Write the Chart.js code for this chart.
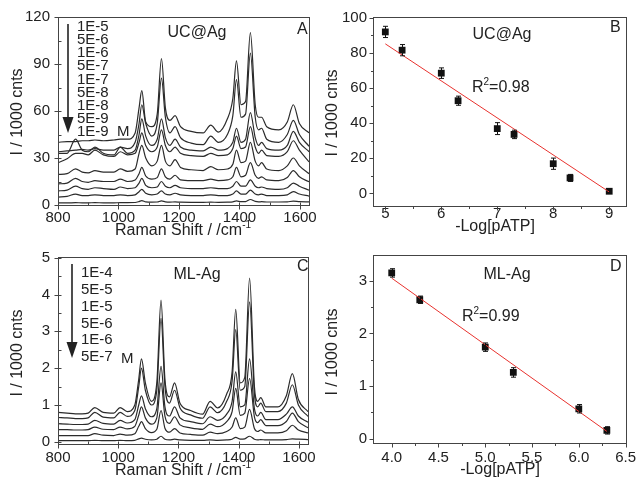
<!DOCTYPE html>
<html>
<head>
<meta charset="utf-8">
<script src="https://cdn.jsdelivr.net/npm/chart.js@4.4.0/dist/chart.umd.min.js"></script>
<style>
body { margin: 0; background: #fff; }
#wrap { position: relative; width: 642px; height: 486px; }
canvas { position: absolute; }
</style>
</head>
<body>
<div id="wrap">
<canvas id="cA" width="321" height="240" style="left:0;top:0"></canvas>
<canvas id="cB" width="321" height="240" style="left:321px;top:0"></canvas>
<canvas id="cC" width="321" height="246" style="left:0;top:240px"></canvas>
<canvas id="cD" width="321" height="246" style="left:321px;top:240px"></canvas>
</div>
<script>
// raman shift positions (cm-1) shared by both spectra panels
const ramanX = [800, 830, 858, 880, 900, 922, 950, 985, 1006, 1030, 1055, 1068, 1077, 1090, 1110, 1128, 1142, 1155, 1170, 1187, 1205, 1240, 1280, 1305, 1330, 1360, 1378, 1390, 1405, 1420, 1436, 1452, 1463, 1473, 1490, 1530, 1558, 1578, 1598, 1630];

// panel A : UC@Ag spectra, I / 1000 cnts
const ucLabels = ['1E-5', '5E-6', '1E-6', '5E-7', '1E-7', '5E-8', '1E-8', '5E-9', '1E-9'];
const uc_1e5 = [40,40.5,40.5,41,41,41.5,41,41.5,42,42, 46,62,73,53,50,58,93.5,62,54,57, 50,47,46,51,46.5,55,68,92,64,66, 110,64,56,56,50,48,53,64,52,46];
const uc_5e6 = [34,34.5,35,35.5,35,36,35,35,37,36, 40,52,64,52,44,52,81,56,46,50, 43,39.5,38.5,44,40,45,57,80,56,58, 97,56,48,49,42,40,45,54,45,37.5];
const uc_1e6 = [33,33,42,35,34,37,33,32,37,33, 35,45,55,44,38,42,55,43,38,42, 37,35,34.5,37,35,36,40,49,40,42, 59,43,38,40,36,35,38,47,40,34];
const uc_5e7 = [27,29.5,33,33,32,35,32,31,34,32, 33,40,46,38,34,37,48,38,34,37, 33,31.5,31,33,31.5,32,36,44,36,37, 50,37,33,35,31.5,31,34,41,35,27.5];
const uc_1e7 = [19.5,20,23,21,20.5,22,21,21,23,21.5, 23,33,38,30,25,28,38,28,25,29, 24,22.5,22,24.5,22.5,23,26,35,27,28, 40,28,25,27,23,22,25,30,25,20];
const uc_5e8 = [13.5,14,17,15,14.5,15.5,15,15,16.5,15, 16,20,24,18.5,16.5,17.5,23,18,16.5,19, 16,15.5,15.5,16.5,15.5,16,18,24,18,19, 27,19,17,18,16,15.5,17.5,22,18,14.8];
const uc_1e8 = [9,9.5,12,10.5,10,11,10.5,10,11.5,10.5, 11,14,17,12.5,11,11.5,15,12,11,12.5, 11,10.5,10.5,11,10.5,10.5,12,15,12,12, 16,12,11,11.5,10.5,10,11,14,12,9.5];
const uc_5e9 = [5,5.5,7,6,6,6.5,6,6,6.5,6, 6.5,8.5,10,7.5,6.5,7,9,7,6.5,7.5, 6.5,6,6,6.5,6,6,7,9,7,7, 9.5,7,6.5,7,6,6,6.5,8.5,7,5.7];
const uc_1e9 = [1.3,1.3,1.5,1.4,1.4,1.5,1.4,1.4,1.5,1.5, 1.6,2.2,2.8,2,1.8,1.9,2.6,2,1.8,2, 1.8,1.7,1.7,1.8,1.7,1.8,2,2.6,2.1,2.2, 3.5,2.3,2,2.1,1.9,1.9,2,2.5,2.2,2];

// panel C : ML-Ag spectra
const mlLabels = ['1E-4', '5E-5', '1E-5', '5E-6', '1E-6', '5E-7'];
const ml_1e4 = [0.8,0.78,0.76,0.76,0.78,0.93,0.8,0.78,0.93,0.82, 1.0,1.7,2.25,1.6,1.1,1.6,3.85,1.7,1.22,1.6, 1.05,0.85,0.75,1.1,0.92,1.3,1.9,3.6,1.6,1.75, 4.45,1.5,1.1,1.2,0.95,0.95,1.25,1.85,1.15,0.82];
const ml_5e5 = [0.66,0.65,0.63,0.63,0.65,0.8,0.67,0.65,0.8,0.69, 0.85,1.5,2.0,1.4,1.0,1.4,3.35,1.5,1.05,1.4, 0.92,0.73,0.64,0.95,0.79,1.1,1.65,3.05,1.4,1.5, 3.8,1.3,0.95,1.05,0.82,0.82,1.05,1.55,1.0,0.69];
const ml_1e5 = [0.49,0.48,0.47,0.47,0.48,0.58,0.5,0.48,0.58,0.51, 0.6,1.0,1.25,0.9,0.68,0.9,2.05,0.95,0.7,0.95, 0.65,0.55,0.49,0.68,0.58,0.75,1.1,1.9,0.95,1.0, 2.25,0.9,0.7,0.8,0.6,0.6,0.75,0.95,0.7,0.53];
const ml_5e6 = [0.33,0.33,0.32,0.32,0.33,0.4,0.34,0.33,0.4,0.35, 0.42,0.72,0.95,0.65,0.48,0.65,1.6,0.7,0.5,0.68, 0.46,0.38,0.34,0.48,0.41,0.55,0.82,1.45,0.72,0.78, 1.72,0.68,0.52,0.6,0.44,0.44,0.55,0.78,0.55,0.38];
const ml_1e6 = [0.17,0.17,0.17,0.17,0.17,0.22,0.18,0.17,0.21,0.18, 0.22,0.42,0.55,0.36,0.25,0.34,0.85,0.37,0.26,0.36, 0.24,0.2,0.18,0.26,0.22,0.28,0.4,0.65,0.36,0.4, 0.88,0.36,0.28,0.32,0.24,0.24,0.3,0.45,0.32,0.24];
const ml_5e7 = [0.03,0.03,0.03,0.03,0.03,0.04,0.03,0.03,0.04,0.03, 0.04,0.08,0.1,0.07,0.05,0.07,0.15,0.07,0.05,0.07, 0.05,0.04,0.04,0.05,0.04,0.05,0.07,0.12,0.07,0.08, 0.15,0.07,0.05,0.06,0.05,0.05,0.06,0.08,0.07,0.06];

// panel B : UC@Ag calibration
const bLogC = [5, 5.3, 6, 6.3, 7, 7.3, 8, 8.3, 9];
const bInt = [92, 81.6, 68.5, 52.8, 36.9, 33.6, 16.9, 8.8, 1.2];
const bErr = [3.2, 3.2, 3, 2.6, 3.4, 2.4, 3.2, 2, 0.8];
const bFitX = [5, 9];
const bFitY = [85.2, 0.8];

// panel D : ML-Ag calibration
const dLogC = [4.0, 4.3, 5.0, 5.3, 6.0, 6.3];
const dInt = [3.15, 2.64, 1.74, 1.26, 0.57, 0.16];
const dErr = [0.08, 0.07, 0.08, 0.09, 0.08, 0.07];
const dFitX = [4.0, 6.3];
const dFitY = [3.05, 0.14];

// ticks
const ramanTicks = [800, 1000, 1200, 1400, 1600];
const ramanMinor = [900, 1100, 1300, 1500];
const aYTicks = [0, 30, 60, 90, 120];
const aYMinor = [15, 45, 75, 105];
const bXTicks = [5, 6, 7, 8, 9];
const bXMinor = [5.5, 6.5, 7.5, 8.5];
const bYTicks = [0, 20, 40, 60, 80, 100];
const bYMinor = [10, 30, 50, 70, 90];
const cYTicks = [0, 1, 2, 3, 4, 5];
const cYMinor = [0.5, 1.5, 2.5, 3.5, 4.5];
const dXTicks = [4.0, 4.5, 5.0, 5.5, 6.0, 6.5];
const dXLabels = ['4.0', '4.5', '5.0', '5.5', '6.0', '6.5'];
const dXMinor = [4.25, 4.75, 5.25, 5.75, 6.25];
const dYTicks = [0, 1, 2, 3];
const dYMinor = [0.5, 1.5, 2.5];

const FONT = '"Liberation Sans", Arial, sans-serif';
const INK = '#222';

function pts(xs, ys) { return xs.map((x, i) => ({x: x, y: ys[i]})); }

function drawParts(ctx, parts, x, y, size, align) {
  // text with optional superscript pieces
  let w = 0;
  parts.forEach(p => {
    ctx.font = (p.sup ? Math.round(size * 0.6) : size) + 'px ' + FONT;
    w += ctx.measureText(p.t).width;
  });
  let cx = align == 'center' ? x - w / 2 : x;
  ctx.textAlign = 'left';
  ctx.textBaseline = 'middle';
  parts.forEach(p => {
    ctx.font = (p.sup ? Math.round(size * 0.6) : size) + 'px ' + FONT;
    ctx.fillText(p.t, cx, p.sup ? y - size * 0.38 : y);
    cx += ctx.measureText(p.t).width;
  });
}

const deco = {
  id: 'deco',
  afterDraw(chart, args, o) {
    const ctx = chart.ctx, a = chart.chartArea;
    const xs = chart.scales.x, ys = chart.scales.y;
    ctx.save();
    ctx.strokeStyle = '#444';
    ctx.lineWidth = 1;
    const L = Math.round(a.left) + 0.5, T = Math.round(a.top) + 0.5;
    const R = Math.round(a.right) + 0.5, B = Math.round(a.bottom) + 0.5;
    ctx.strokeRect(L, T, R - L, B - T);
    // tick marks: [out, in] lengths for major and minor
    const mj = o.major, mn = o.minor;
    ctx.beginPath();
    o.xMajor.forEach(v => { const p = Math.round(xs.getPixelForValue(v)) + 0.5; ctx.moveTo(p, B + mj[0]); ctx.lineTo(p, B - mj[1]); });
    o.xMinor.forEach(v => { const p = Math.round(xs.getPixelForValue(v)) + 0.5; ctx.moveTo(p, B + mn[0]); ctx.lineTo(p, B - mn[1]); });
    o.yMajor.forEach(v => { const p = Math.round(ys.getPixelForValue(v)) + 0.5; ctx.moveTo(L - mj[0], p); ctx.lineTo(L + mj[1], p); });
    o.yMinor.forEach(v => { const p = Math.round(ys.getPixelForValue(v)) + 0.5; ctx.moveTo(L - mn[0], p); ctx.lineTo(L + mn[1], p); });
    ctx.stroke();

    ctx.fillStyle = INK;
    // axis titles
    drawParts(ctx, o.xTitle, o.xTitlePos[0], o.xTitlePos[1], 16, 'center');
    ctx.save();
    ctx.translate(o.yTitlePos[0], o.yTitlePos[1]);
    ctx.rotate(-Math.PI / 2);
    drawParts(ctx, [{t: 'I / 1000 cnts'}], 0, 0, 16, 'center');
    ctx.restore();
    // free texts
    (o.texts || []).forEach(t => drawParts(ctx, t.parts, t.x, t.y, t.size, t.align || 'left'));
    // concentration list + arrow
    if (o.conc) {
      const c = o.conc;
      c.labels.forEach((s, i) => drawParts(ctx, [{t: s}], c.x, c.y0 + i * c.dy, c.size, 'left'));
      drawParts(ctx, [{t: 'M'}], c.mx, c.my, c.size, 'left');
      ctx.strokeStyle = '#222';
      ctx.lineWidth = 1.6;
      ctx.beginPath();
      ctx.moveTo(c.ax, c.atop);
      ctx.lineTo(c.ax, c.abot - 10);
      ctx.stroke();
      ctx.beginPath();
      ctx.moveTo(c.ax - 5.5, c.abot - 16);
      ctx.lineTo(c.ax + 5.5, c.abot - 16);
      ctx.lineTo(c.ax, c.abot);
      ctx.closePath();
      ctx.fill();
    }
    // error bars
    chart.data.datasets.forEach((ds, di) => {
      if (!ds.err) return;
      const meta = chart.getDatasetMeta(di);
      ctx.strokeStyle = '#111';
      ctx.lineWidth = 1;
      ctx.beginPath();
      meta.data.forEach((el, j) => {
        const v = ds.data[j].y;
        const y1 = ys.getPixelForValue(v + ds.err[j]), y2 = ys.getPixelForValue(v - ds.err[j]);
        const x = Math.round(el.x) + 0.5;
        ctx.moveTo(x, y1); ctx.lineTo(x, y2);
        ctx.moveTo(x - 2.5, y1); ctx.lineTo(x + 2.5, y1);
        ctx.moveTo(x - 2.5, y2); ctx.lineTo(x + 2.5, y2);
      });
      ctx.stroke();
    });
    ctx.restore();
  }
};

function fixedTicks(vals) {
  return function (scale) { scale.ticks = vals.map(v => ({value: v})); };
}

function makeOptions(p) {
  return {
    responsive: false,
    animation: false,
    devicePixelRatio: 1,
    layout: {padding: {top: p.top, right: p.right, left: 0, bottom: 0}},
    plugins: {legend: {display: false}, tooltip: {enabled: false}, deco: p.deco},
    scales: {
      x: {
        type: 'linear', min: p.xmin, max: p.xmax,
        grid: {display: false, drawTicks: false}, border: {display: false},
        afterBuildTicks: fixedTicks(p.xTicks),
        afterFit: s => { s.height = p.xh; },
        ticks: {color: INK, font: {size: 15, family: FONT}, padding: p.xpad, maxRotation: 0, autoSkip: false,
          callback: (v, i) => p.xLabels ? p.xLabels[i] : String(v)}
      },
      y: {
        type: 'linear', min: p.ymin, max: p.ymax,
        grid: {display: false, drawTicks: false}, border: {display: false},
        afterBuildTicks: fixedTicks(p.yTicks),
        afterFit: s => { s.width = p.yw; },
        ticks: {color: INK, font: {size: 15, family: FONT}, padding: p.ypad, autoSkip: false,
          callback: v => String(v)}
      }
    }
  };
}

function spectra(list) {
  return list.map(ys => ({
    data: pts(ramanX, ys), borderColor: '#2b2b2b', borderWidth: 1.2,
    pointRadius: 0, cubicInterpolationMode: 'monotone', fill: false
  }));
}

const ramanTitle = [{t: 'Raman Shift / /cm'}, {t: '-1', sup: true}];

// panel A
new Chart(document.getElementById('cA'), {
  type: 'line',
  data: {datasets: spectra([uc_1e9, uc_5e9, uc_1e8, uc_5e8, uc_1e7, uc_5e7, uc_1e6, uc_5e6, uc_1e5])},
  options: makeOptions({
    top: 16, right: 9, xh: 35, yw: 58, xpad: 4, ypad: 8,
    xmin: 800, xmax: 1630, ymin: 0, ymax: 120,
    xTicks: ramanTicks, yTicks: aYTicks,
    deco: {
      major: [4, 3], minor: [0, 3],
      xMajor: ramanTicks, xMinor: ramanMinor, yMajor: aYTicks, yMinor: aYMinor,
      xTitle: ramanTitle, xTitlePos: [183, 231], yTitlePos: [18, 112],
      texts: [
        {parts: [{t: 'UC@Ag'}], x: 197, y: 33, size: 16, align: 'center'},
        {parts: [{t: 'A'}], x: 297, y: 30, size: 16}
      ],
      conc: {labels: ucLabels, x: 77, y0: 27, dy: 13.1, size: 15, mx: 117, my: 132,
        ax: 68, atop: 24, abot: 133}
    }
  }),
  plugins: [deco]
});

// panel B
new Chart(document.getElementById('cB'), {
  type: 'scatter',
  data: {datasets: [
    {type: 'line', data: pts(bFitX, bFitY), borderColor: '#e8322e', borderWidth: 1, pointRadius: 0},
    {data: pts(bLogC, bInt), err: bErr, pointStyle: 'rect', pointRadius: 4.8,
      backgroundColor: '#111', borderColor: '#111', borderWidth: 0}
  ]},
  options: makeOptions({
    top: 17, right: 16, xh: 34, yw: 52, xpad: -1, ypad: 6,
    xmin: 4.78, xmax: 9.3, ymin: -7.2, ymax: 100.5,
    xTicks: bXTicks, yTicks: bYTicks,
    deco: {
      major: [4, 0], minor: [2.5, 0],
      xMajor: bXTicks, xMinor: bXMinor, yMajor: bYTicks, yMinor: bYMinor,
      xTitle: [{t: '-Log[pATP]'}], xTitlePos: [174, 227], yTitlePos: [12, 113],
      texts: [
        {parts: [{t: 'UC@Ag'}], x: 181, y: 35, size: 16, align: 'center'},
        {parts: [{t: 'B'}], x: 289, y: 28, size: 16},
        {parts: [{t: 'R'}, {t: '2', sup: true}, {t: '=0.98'}], x: 151, y: 88, size: 16}
      ]
    }
  }),
  plugins: [deco]
});

// panel C
new Chart(document.getElementById('cC'), {
  type: 'line',
  data: {datasets: spectra([ml_5e7, ml_1e6, ml_5e6, ml_1e5, ml_5e5, ml_1e4])},
  options: makeOptions({
    top: 15, right: 9, xh: 42, yw: 58, xpad: 5, ypad: 8,
    xmin: 800, xmax: 1630, ymin: -0.06, ymax: 5.02,
    xTicks: ramanTicks, yTicks: cYTicks,
    deco: {
      major: [4, 3], minor: [0, 3],
      xMajor: ramanTicks, xMinor: ramanMinor, yMajor: cYTicks, yMinor: cYMinor,
      xTitle: ramanTitle, xTitlePos: [183, 231], yTitlePos: [18, 113],
      texts: [
        {parts: [{t: 'ML-Ag'}], x: 197, y: 35, size: 16, align: 'center'},
        {parts: [{t: 'C'}], x: 297, y: 27, size: 16}
      ],
      conc: {labels: mlLabels, x: 81, y0: 33, dy: 16.8, size: 15, mx: 121, my: 119,
        ax: 72, atop: 24, abot: 118}
    }
  }),
  plugins: [deco]
});

// panel D
new Chart(document.getElementById('cD'), {
  type: 'scatter',
  data: {datasets: [
    {type: 'line', data: pts(dFitX, dFitY), borderColor: '#e8322e', borderWidth: 1, pointRadius: 0},
    {data: pts(dLogC, dInt), err: dErr, pointStyle: 'rect', pointRadius: 4.8,
      backgroundColor: '#111', borderColor: '#111', borderWidth: 0}
  ]},
  options: makeOptions({
    top: 15, right: 16, xh: 43, yw: 52, xpad: 6, ypad: 6,
    xmin: 3.8, xmax: 6.5, ymin: -0.08, ymax: 3.49,
    xTicks: dXTicks, xLabels: dXLabels, yTicks: dYTicks,
    deco: {
      major: [4, 0], minor: [2.5, 0],
      xMajor: dXTicks, xMinor: dXMinor, yMajor: dYTicks, yMinor: dYMinor,
      xTitle: [{t: '-Log[pATP]'}], xTitlePos: [179, 230], yTitlePos: [12, 112],
      texts: [
        {parts: [{t: 'ML-Ag'}], x: 186, y: 35, size: 16, align: 'center'},
        {parts: [{t: 'D'}], x: 289, y: 27, size: 16},
        {parts: [{t: 'R'}, {t: '2', sup: true}, {t: '=0.99'}], x: 141, y: 77, size: 16}
      ]
    }
  }),
  plugins: [deco]
});
</script>
</body>
</html>
